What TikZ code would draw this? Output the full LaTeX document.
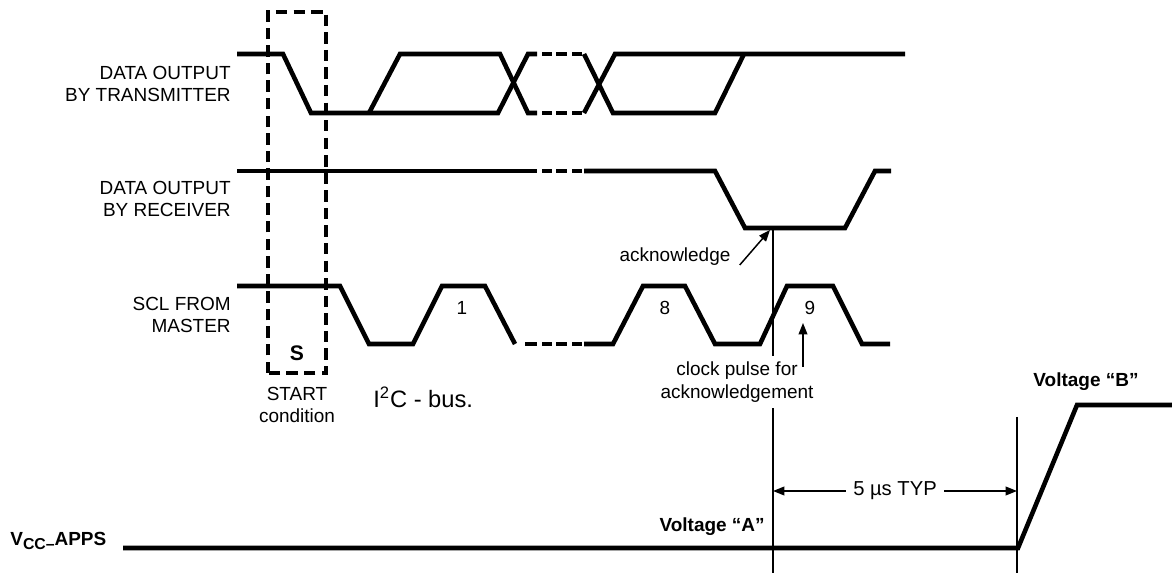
\documentclass[tikz,border=0pt]{standalone}
\usepackage{fontspec}
\setmainfont{Liberation Sans}
\usetikzlibrary{arrows.meta,positioning}
\newcommand\lblsize{\fontsize{10.8}{13}\selectfont}

\begin{document}
\begin{tikzpicture}[x=0.02cm,y=-0.02cm]
\tikzstyle{sig} = [line width=2.6pt]
\tikzstyle{thinline} = [line width=0.85pt]
\tikzstyle{tip} = [-{Triangle[length=6.5pt,width=5pt]}]
\tikzstyle{lbl} = [align=right,anchor=east,inner sep=0pt,font=\lblsize]
\tikzstyle{txt} = [align=center,inner sep=0pt,font=\lblsize]
\tikzstyle{vlbl} = [inner sep=0pt,font=\bfseries\lblsize]

\useasboundingbox (0,0) rectangle (1172,573);

% signal names
\node[lbl] (tx) at (231,84) {DATA OUTPUT\\BY TRANSMITTER};
\node[lbl] (rx) at (231,199) {DATA OUTPUT\\BY RECEIVER};
\node[lbl] (scl) at (231,315) {SCL FROM\\MASTER};

% start condition
\draw[line width=1.9pt,dash pattern=on 6.5pt off 3.5pt] (268,373) rectangle (326,12);
\node[inner sep=0pt,font=\bfseries\fontsize{12}{14}\selectfont] (s) at (297,353) {S};
\node[txt] (start) at (297,405) {START\\condition};
\node[anchor=west,inner sep=0pt,font=\fontsize{13.5}{16}\selectfont] (bus) at (373,397) {I\textsuperscript{2}C - bus.};

% transmitter
\draw[sig] (237,54) -- (283,54) -- (311,113) -- (498,113) -- (528,54) -- (537,54);
\draw[sig] (369,113) -- (400,54) -- (500,54) -- (528,113) -- (537,113);
\foreach \a/\b in {542/552,556/567,572/582}
{
  \draw[sig] (\a,54) -- (\b,54);
  \draw[sig] (\a,113) -- (\b,113);
}
\draw[sig] (584,54) -- (613,113) -- (715,113) -- (744,54);
\draw[sig] (584,113) -- (615,54) -- (905,54);

% receiver
\draw[sig] (237,171) -- (537,171);
\foreach \a/\b in {542/552,556/567,572/582}
  \draw[sig] (\a,171) -- (\b,171);
\draw[sig] (584,171) -- (715,171) -- (745,228) -- (845,228) -- (875,171) -- (891,171);

% clock
\draw[sig] (237,286) -- (340,286) -- (369,344) -- (413,344) -- (442,286) -- (485,286) -- (515,344);
\draw[sig] (525,344) -- (537,344);
\foreach \a/\b in {542/552,556/567,572/582}
  \draw[sig] (\a,344) -- (\b,344);
\draw[sig] (584,344) -- (613,344) -- (643,286) -- (685,286) -- (715,344) -- (760,344)
  -- (787,286) -- (833,286) -- (862,344) -- (890,344);
\node[txt] (p1) at (462,308) {1};
\node[txt] (p8) at (665,308) {8};
\node[txt] (p9) at (810,308) {9};

% acknowledge markers
\coordinate (ackbit) at (773,228);
\coordinate (ackbot) at (773,573);
\coordinate (bbot) at (1017,573);
\draw[thinline] (ackbit) -- (ackbot);
\draw[thinline] (1017,417) -- (bbot);
\node[txt] (ack) at (675,257) {acknowledge};
\draw[thinline,tip] ([shift={(9,8)}]ack.east) -- (770,230);
\node[txt,fill=white,inner sep=3pt] (clk) at (737,382) {clock pulse for\\acknowledgement};
\coordinate (clktip) at (803,323);
\draw[thinline,tip] (803,367) -- (clktip);

% supply
\draw[sig] (123,548) -- (1018,548) -- (1077,405) -- (1172,405);
\node[vlbl,anchor=base west] (vcc) at (10,545) {V\raisebox{-0.45ex}{\fontsize{9}{10}\selectfont CC–}APPS};
\node[vlbl,anchor=east] (va) at (765,527) {Voltage “A”};
\node[vlbl] (vb) at (1086,382) {Voltage “B”};
\draw[thinline,{Triangle[length=6.5pt,width=5pt]}-{Triangle[length=6.5pt,width=5pt]}]
  (773,491) -- node[txt,fill=white,inner sep=4pt,font=\fontsize{11.5}{13}\selectfont] (typ) {5 µs TYP} (1017,491);

\end{tikzpicture}
\end{document}
